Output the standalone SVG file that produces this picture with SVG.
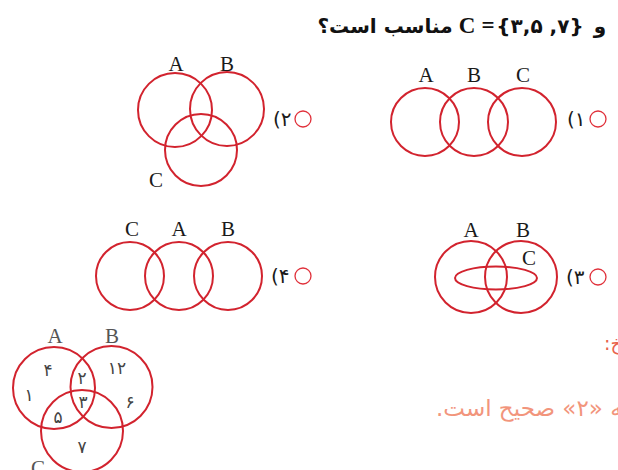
<svg xmlns="http://www.w3.org/2000/svg" width="618" height="470" viewBox="0 0 618 470">
<style>
.c{fill:none;stroke:#d2232e;stroke-width:2}
.m{fill:none;stroke:#e0303a;stroke-width:1.3}
.lb{font-family:"Liberation Serif",serif;font-size:21px;fill:#1a1a1a;text-anchor:middle}
.lg{font-family:"Liberation Serif",serif;font-size:21px;fill:#555;text-anchor:middle}
.op{font-family:"DejaVu Sans",sans-serif;font-size:20px;fill:#1a1a1a;unicode-bidi:bidi-override;direction:ltr}
.n{font-family:"DejaVu Sans",sans-serif;font-size:17px;fill:#444;text-anchor:middle}
.t{font-family:"DejaVu Sans",sans-serif;font-weight:bold;font-size:20px;fill:#111}
.ts{font-family:"Liberation Serif",serif;font-weight:bold;font-size:23px;fill:#111;text-anchor:middle}
.ov{unicode-bidi:bidi-override;direction:ltr}
</style>
<rect width="618" height="470" fill="#fff"/>
<g id="title">
<text class="t" x="600" y="33" text-anchor="middle">و</text>
<text class="ts" x="467" y="33">C</text>
<text class="ts" x="488" y="33">=</text>
<text class="t ov" x="540" y="33" text-anchor="middle" font-size="19">{۳,۵ ,۷}</text>
<text class="t" x="385" y="33" text-anchor="middle" font-size="17">مناسب است؟</text>
</g>
<g id="option1">
<circle class="c" cx="425" cy="122" r="34"/>
<circle class="c" cx="474" cy="122" r="34"/>
<circle class="c" cx="522" cy="122" r="34"/>
<text class="lb" x="426" y="82">A</text>
<text class="lb" x="474" y="82">B</text>
<text class="lb" x="523" y="82">C</text>
<circle class="m" cx="598" cy="119" r="8"/>
<text class="op" x="567" y="126">(۱</text>
</g>
<g id="option2">
<circle class="c" cx="175" cy="110" r="37"/>
<circle class="c" cx="227" cy="109" r="37"/>
<circle class="c" cx="201" cy="150" r="36"/>
<text class="lb" x="176" y="71">A</text>
<text class="lb" x="227" y="71">B</text>
<text class="lb" x="156" y="187">C</text>
<circle class="m" cx="303" cy="119" r="8"/>
<text class="op" x="273" y="126">(۲</text>
</g>
<g id="option3">
<circle class="c" cx="471" cy="277" r="36"/>
<circle class="c" cx="521" cy="277" r="36"/>
<ellipse class="c" cx="496" cy="278" rx="41" ry="11.5"/>
<text class="lb" x="471" y="237">A</text>
<text class="lb" x="523" y="237">B</text>
<text class="lb" x="529" y="265">C</text>
<circle class="m" cx="598" cy="277" r="8"/>
<text class="op" x="566" y="284">(۳</text>
</g>
<g id="option4">
<circle class="c" cx="130" cy="276" r="34"/>
<circle class="c" cx="179" cy="276" r="34"/>
<circle class="c" cx="228" cy="276" r="34"/>
<text class="lb" x="132" y="236">C</text>
<text class="lb" x="179" y="236">A</text>
<text class="lb" x="228" y="236">B</text>
<circle class="m" cx="303" cy="276" r="8"/>
<text class="op" x="271" y="283">(۴</text>
</g>
<g id="answer-venn">
<circle class="c" cx="54" cy="388" r="41"/>
<circle class="c" cx="111.5" cy="387" r="41"/>
<circle class="c" cx="82" cy="431" r="41"/>
<text class="lg" x="55" y="343">A</text>
<text class="lg" x="112" y="343">B</text>
<text class="lg" x="38" y="475">C</text>
<text class="n" x="48" y="376">۴</text>
<text class="n" x="29" y="401">۱</text>
<text class="n" x="82" y="384">۲</text>
<text class="n" x="117" y="374">۱۲</text>
<text class="n" x="83" y="408">۳</text>
<text class="n" x="130" y="408">۶</text>
<text class="n" x="58" y="423">۵</text>
<text class="n" x="82" y="453">۷</text>
</g>
<g id="answer-text">
<text x="604" y="350" direction="rtl" text-anchor="end" font-family="DejaVu Sans,sans-serif" font-size="19" fill="#e8634c">پاسخ:</text>
<text x="436" y="416" direction="rtl" text-anchor="end" font-family="DejaVu Sans,sans-serif" font-size="23" fill="#f2957c">گزینه «۲» صحیح است.</text>
</g>
<g id="connectors"/>
</svg>
